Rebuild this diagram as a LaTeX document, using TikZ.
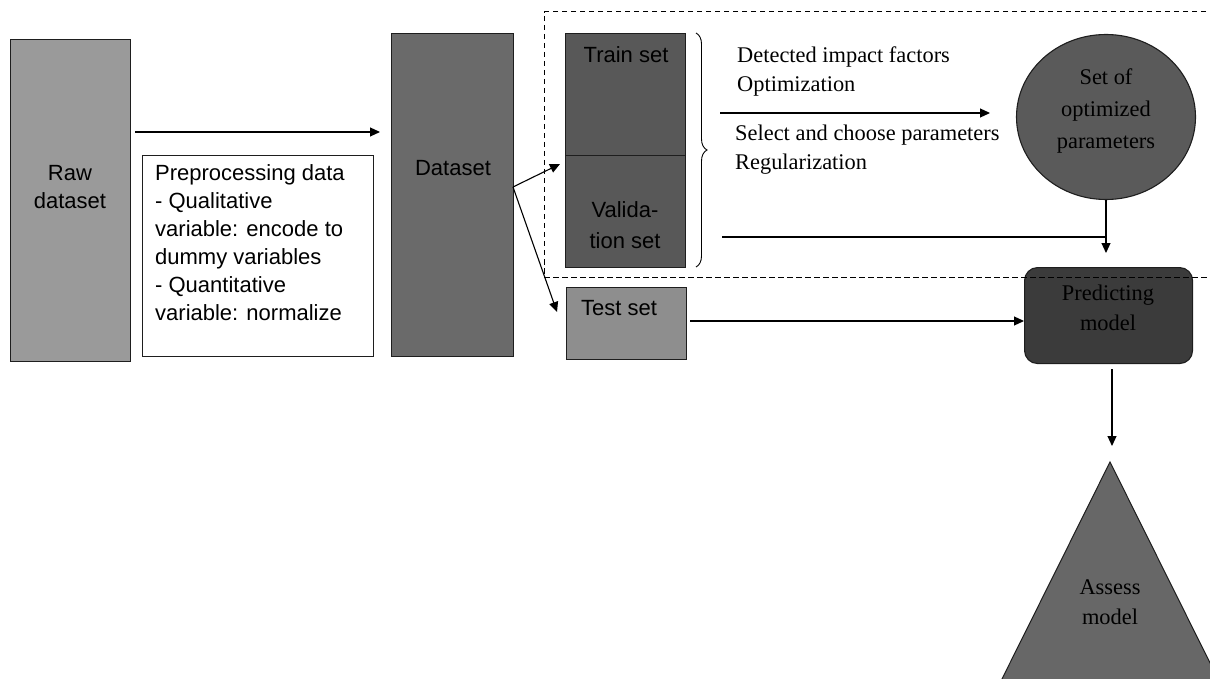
\documentclass[tikz,border=0pt]{standalone}
\usepackage{fontspec}
\setmainfont{Liberation Serif}
\setsansfont{Liberation Sans}
\usetikzlibrary{arrows.meta,decorations.pathreplacing,shapes.geometric}

\definecolor{rawgray}{HTML}{9A9A9A}
\definecolor{datagray}{HTML}{6A6A6A}
\definecolor{traingray}{HTML}{585858}
\definecolor{testgray}{HTML}{8E8E8E}
\definecolor{ellgray}{HTML}{5A5A5A}
\definecolor{predgray}{HTML}{3B3B3B}
\definecolor{trigray}{HTML}{676767}
\definecolor{edge}{HTML}{1E1E1E}

\tikzset{
  blockbox/.style={draw=edge, line width=1.1pt, inner sep=0pt, anchor=north west},
  sanstext/.style={font=\sffamily\fontsize{22}{28}\selectfont, inner sep=0pt, align=center},
  seriftext/.style={font=\fontsize{22.4}{29}\selectfont, inner sep=0pt, align=left, anchor=west},
  flow/.style={line width=1.1pt, draw=black, -{Triangle[length=10pt,width=9pt]}},
  plainline/.style={line width=1.1pt, draw=black},
  fence/.style={line width=1pt, dash pattern=on 5.5pt off 3.5pt, draw=black}
}

\begin{document}
\begin{tikzpicture}[x=1pt,y=-1pt]
\useasboundingbox (0,0) rectangle (1210,679);

% left column
\node[blockbox, fill=rawgray, minimum width=120, minimum height=322] (raw) at (10,39) {};
\node[sanstext] (rawtxt) at (70,187) {Raw\\dataset};

\node[blockbox, fill=white, minimum width=231, minimum height=201] (prep) at (142,155) {};
\node[sanstext, align=left, anchor=north west] (preptxt) at (155,164)
  {Preprocessing data\\- Qualitative\\variable: encode to\\dummy variables\\- Quantitative\\variable: normalize};

\node[blockbox, fill=datagray, minimum width=122, minimum height=323] (data) at (391,33) {};
\node[sanstext] (datatxt) at (453,168) {Dataset};

% split sets
\node[blockbox, fill=traingray, minimum width=120, minimum height=122] (train) at (565,33) {};
\node[blockbox, fill=traingray, minimum width=120, minimum height=112] (valid) at (565,155) {};
\node[sanstext] (traintxt) at (626,55) {Train set};
\node[sanstext, font=\sffamily\fontsize{22}{31}\selectfont] (validtxt) at (625,225) {Valida-\\tion set};

\node[blockbox, fill=testgray, minimum width=120, minimum height=72] (test) at (566,287) {};
\node[sanstext] (testtxt) at (619,308) {Test set};

% model side
\node[ellipse, draw=edge, line width=1.1pt, fill=ellgray, minimum width=179, minimum height=165, inner sep=0pt]
  (params) at (1106,117) {};
\node[font=\fontsize{22.4}{32}\selectfont, inner sep=0pt, align=center] (paramtxt) at (1106,111)
  {Set of\\optimized\\parameters};

\node[draw=edge, line width=1.1pt, fill=predgray, rounded corners=13pt, minimum width=168, minimum height=96,
  inner sep=0pt, anchor=north west] (pred) at (1024,267) {};
\node[font=\fontsize{22.4}{30}\selectfont, inner sep=0pt, align=center] (predtxt) at (1108,308) {Predicting\\model};

\begin{scope}
  \clip (0,0) rectangle (1210,679);
  \coordinate (apex) at (1110,462);
  \draw[edge, line width=1pt, fill=trigray] (apex) -- (991.5,700) -- (1228.5,700) -- cycle;
\end{scope}
\node[font=\fontsize{22.4}{30}\selectfont, inner sep=0pt, align=center] (assesstxt) at (1110,602) {Assess\\model};

% training annotations
\draw[line width=0.9pt, decorate, decoration={brace, amplitude=11pt, mirror}] (696,267) -- (696,33);
\node[seriftext] (detect) at (737,72) {Detected impact factors\\Optimization};
\node[seriftext] (select) at (735,150) {Select and choose parameters\\Regularization};

\coordinate (optstart) at (720,113);
\coordinate (optend) at (990,113);
\draw[flow] (optstart) -- (optend);

\coordinate (valstart) at (722,237);
\coordinate (join) at (params.south |- valstart);
\coordinate (parend) at (1106,253);
\draw[plainline] (valstart) -- (join);
\draw[flow] (params.south) -- (parend);

% main flow
\coordinate (rawout) at (135,132);
\coordinate (datain) at (380,132);
\draw[flow] (rawout) -- (datain);

\coordinate (dataout) at (513,187);
\coordinate (trainin) at (560,164);
\coordinate (testin) at (557,312);
\draw[flow] (dataout) -- (trainin);
\draw[flow] (dataout) -- (testin);

\coordinate (testout) at (690,321);
\draw[flow] (testout) -- (pred.west |- testout);

\coordinate (predout) at (1112,369);
\coordinate (assessin) at (1112,446);
\draw[flow] (predout) -- (assessin);

% dashed frame round the training stage
\draw[fence] (1215,12) -- (544,12) -- (544,277) -- (1215,277);
\end{tikzpicture}
\end{document}
